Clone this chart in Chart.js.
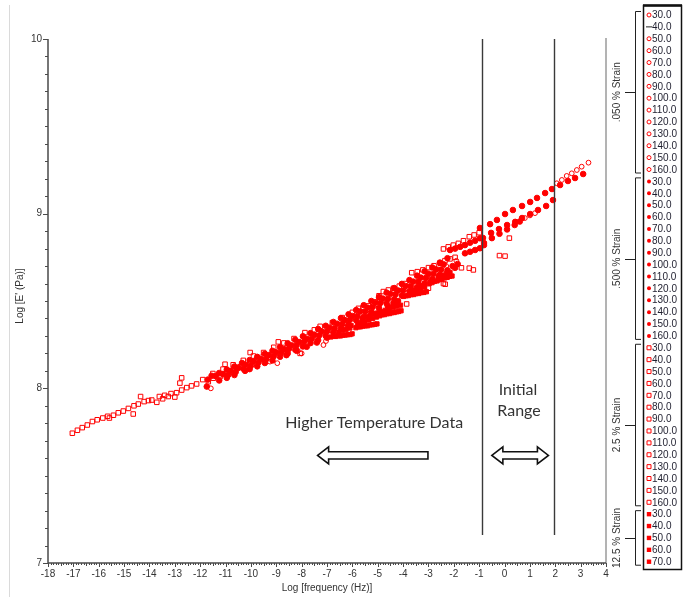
<!DOCTYPE html>
<html>
<head>
<meta charset="utf-8">
<script src="https://cdn.jsdelivr.net/npm/chart.js@4.4.1/dist/chart.umd.min.js"></script>
<style>
  html, body { margin: 0; padding: 0; background: #fff; }
  #wrap { position: relative; width: 691px; height: 597px; }
</style>
</head>
<body>
<div id="wrap"><canvas id="grafico" width="691" height="597"></canvas></div>
<script>
// Ejes
const xTicks = [-18, -17, -16, -15, -14, -13, -12, -11, -10, -9, -8, -7, -6, -5, -4, -3, -2, -1, 0, 1, 2, 3, 4];
const yTicks = [7, 8, 9, 10];

// Leyenda
const groupLabels = ['.050 % Strain', '.500 % Strain', '2.5 % Strain', '12.5 % Strain'];
const temps050 = ['30.0', '40.0', '50.0', '60.0', '70.0', '80.0', '90.0', '100.0', '110.0', '120.0', '130.0', '140.0', '150.0', '160.0'];
const temps500 = ['30.0', '40.0', '50.0', '60.0', '70.0', '80.0', '90.0', '100.0', '110.0', '120.0', '130.0', '140.0', '150.0', '160.0'];
const temps25 = ['30.0', '40.0', '50.0', '60.0', '70.0', '80.0', '90.0', '100.0', '110.0', '120.0', '130.0', '140.0', '150.0', '160.0'];
const temps125 = ['30.0', '40.0', '50.0', '60.0', '70.0'];

// .050 % strain (circulos abiertos) [log f, log E']
const strain050 = [
  [-11.58, 8.000], [-11.20, 8.065], [-10.69, 8.086], [-10.20, 8.125], [-9.77, 8.134], [-9.40, 8.170],
  [-9.25, 8.153], [-8.96, 8.144], [-8.60, 8.220], [-8.15, 8.215], [-8.00, 8.200], [-7.70, 8.280],
  [-7.14, 8.248], [-7.04, 8.271], [-6.80, 8.330], [-6.30, 8.372], [-5.90, 8.405], [-5.40, 8.452],
  [-5.00, 8.480], [-4.70, 8.500], [-4.30, 8.540], [-3.80, 8.570], [-3.40, 8.610], [-3.05, 8.640],
  [-2.60, 8.680], [-2.30, 8.700], [-1.90, 8.730],
  [0.80, 8.975], [1.00, 8.990], [1.20, 9.003],
  [2.06, 9.174], [2.26, 9.193], [2.45, 9.216], [2.65, 9.231], [2.85, 9.250], [3.04, 9.269], [3.31, 9.292]
];

// .500 % strain (circulos llenos)
const strain500 = [
  [-11.70, 8.050], [-11.40, 8.070], [-11.10, 8.082], [-10.80, 8.100], [-10.50, 8.117], [-10.20, 8.135],
  [-9.90, 8.155], [-9.60, 8.168], [-9.30, 8.190], [-9.00, 8.206], [-8.70, 8.224], [-8.40, 8.246],
  [-8.10, 8.265], [-7.80, 8.284], [-7.50, 8.306], [-7.20, 8.325], [-6.90, 8.347], [-6.60, 8.370],
  [-6.30, 8.391], [-6.00, 8.414], [-5.70, 8.440], [-5.40, 8.462], [-5.10, 8.490], [-4.80, 8.514],
  [-4.50, 8.541], [-4.20, 8.560], [-3.90, 8.586], [-3.60, 8.611], [-3.30, 8.634], [-3.00, 8.656],
  [-2.70, 8.681], [-2.40, 8.710],
  [-11.74, 8.010], [-11.25, 8.045], [-10.95, 8.060], [-10.65, 8.076], [-10.23, 8.100], [-10.05, 8.110],
  [-9.75, 8.126], [-9.45, 8.145], [-9.15, 8.160], [-8.85, 8.181], [-8.55, 8.200], [-8.25, 8.221],
  [-7.95, 8.240], [-7.65, 8.259], [-7.35, 8.276], [-7.05, 8.300], [-6.75, 8.321], [-6.45, 8.344],
  [-6.15, 8.366], [-5.85, 8.390], [-5.55, 8.410], [-5.25, 8.436], [-4.95, 8.460], [-4.65, 8.486],
  [-4.35, 8.510], [-4.05, 8.531], [-3.75, 8.556], [-3.45, 8.579], [-3.15, 8.601], [-2.85, 8.626],
  [-2.55, 8.650], [-2.25, 8.676],
  [-11.55, 8.072], [-11.25, 8.088], [-10.95, 8.108], [-10.65, 8.125], [-10.35, 8.145], [-10.05, 8.162],
  [-9.75, 8.180], [-9.45, 8.198], [-9.15, 8.215], [-8.85, 8.236], [-8.55, 8.258], [-8.25, 8.278],
  [-7.95, 8.298], [-7.65, 8.316], [-7.35, 8.340], [-7.05, 8.358], [-6.75, 8.380], [-6.45, 8.402],
  [-6.15, 8.424], [-5.85, 8.448], [-5.55, 8.476], [-5.25, 8.500], [-4.95, 8.522], [-4.65, 8.548],
  [-4.35, 8.574], [-4.05, 8.598], [-3.75, 8.620], [-3.45, 8.645], [-3.15, 8.670], [-2.85, 8.692],
  [-2.55, 8.720], [-2.25, 8.745],
  [-10.90, 8.076], [-10.60, 8.094], [-10.30, 8.112], [-10.00, 8.130], [-9.70, 8.148], [-9.40, 8.166],
  [-9.10, 8.184], [-8.80, 8.206], [-8.50, 8.226], [-8.20, 8.246], [-7.90, 8.268], [-7.60, 8.284],
  [-7.30, 8.304], [-7.00, 8.326], [-6.70, 8.344], [-6.40, 8.368], [-6.10, 8.392], [-5.80, 8.414],
  [-5.50, 8.440], [-5.20, 8.466], [-4.90, 8.488], [-4.60, 8.512], [-4.30, 8.538], [-4.00, 8.560],
  [-3.70, 8.585], [-3.40, 8.610], [-3.10, 8.632], [-2.80, 8.656], [-2.50, 8.680],
  [-8.60, 8.190], [-8.20, 8.215], [-7.80, 8.238], [-7.40, 8.262], [-7.00, 8.290], [-5.60, 8.400],
  [-5.20, 8.430], [-4.60, 8.470], [-4.20, 8.500], [-3.60, 8.560], [-3.30, 8.585], [-2.90, 8.612],
  [-2.60, 8.635], [-2.05, 8.700], [-1.85, 8.712], [-1.95, 8.690],
  [-2.15, 8.792], [-1.95, 8.800], [-1.75, 8.810], [-1.56, 8.820], [-1.36, 8.834], [-1.16, 8.845], [-0.97, 8.859],
  [-1.56, 8.773], [-1.36, 8.782], [-1.16, 8.792], [-0.97, 8.802], [-0.81, 8.820],
  [-0.97, 8.918], [-0.57, 8.940], [-0.30, 8.964], [0.02, 8.998], [0.33, 9.021], [0.69, 9.044],
  [1.01, 9.067], [1.28, 9.090], [1.60, 9.118], [1.87, 9.141], [2.19, 9.164], [2.50, 9.187],
  [2.78, 9.204], [3.10, 9.227],
  [-0.85, 8.861], [-0.53, 8.890], [-0.22, 8.912], [0.10, 8.935], [0.42, 8.953], [0.69, 8.975],
  [1.01, 8.998], [1.32, 9.021], [1.64, 9.044], [1.91, 9.078],
  [-0.81, 8.832], [-0.50, 8.860], [-0.20, 8.885], [0.10, 8.910], [0.40, 8.935], [0.60, 8.955]
];

// 2.5 % strain (cuadros abiertos)
const strain25 = [
  [-17.04, 7.743], [-16.84, 7.760], [-16.65, 7.775], [-16.45, 7.790], [-16.25, 7.810], [-16.06, 7.820],
  [-15.84, 7.830], [-15.65, 7.840], [-15.58, 7.830], [-15.42, 7.846], [-15.23, 7.860], [-15.03, 7.870],
  [-14.83, 7.885], [-14.64, 7.853], [-14.61, 7.900], [-14.44, 7.910], [-14.35, 7.953], [-14.21, 7.924],
  [-14.04, 7.930], [-13.91, 7.933], [-13.71, 7.920], [-13.61, 7.953], [-13.48, 7.940], [-13.40, 7.960],
  [-13.26, 7.953], [-13.15, 7.970], [-13.00, 7.950], [-12.93, 7.975], [-12.80, 8.030], [-12.73, 8.060],
  [-12.73, 7.990], [-12.53, 8.004], [-12.34, 8.014], [-12.14, 8.025], [-11.90, 8.050],
  [-11.68, 8.038], [-11.48, 8.058], [-11.22, 8.077], [-10.95, 8.087], [-10.69, 8.106], [-10.43, 8.124],
  [-10.03, 8.144], [-9.77, 8.163], [-9.51, 8.182], [-9.18, 8.191], [-8.85, 8.200], [-8.59, 8.229],
  [-11.50, 8.085], [-11.02, 8.138], [-11.10, 8.110], [-10.70, 8.135], [-10.30, 8.160], [-10.03, 8.205],
  [-9.90, 8.185], [-9.50, 8.205], [-9.10, 8.235], [-8.92, 8.266], [-8.70, 8.260], [-8.30, 8.285],
  [-7.87, 8.319], [-7.50, 8.335], [-7.27, 8.355], [-6.79, 8.376], [-6.40, 8.405], [-6.00, 8.435],
  [-5.76, 8.458], [-5.57, 8.464], [-5.37, 8.472], [-5.10, 8.495], [-4.95, 8.530], [-4.78, 8.554],
  [-4.58, 8.563], [-4.38, 8.573], [-4.15, 8.585], [-3.90, 8.600], [-3.66, 8.662], [-3.44, 8.668],
  [-3.22, 8.678], [-3.00, 8.691], [-2.78, 8.702], [-2.54, 8.716], [-2.35, 8.731], [-2.15, 8.741],
  [-1.95, 8.750],
  [-2.41, 8.798], [-2.22, 8.810], [-2.02, 8.820], [-1.82, 8.830], [-1.62, 8.845], [-1.39, 8.868],
  [-1.20, 8.878], [-1.00, 8.891],
  [-8.06, 8.200], [-3.86, 8.483], [-3.00, 8.573], [-2.41, 8.600], [-2.34, 8.596], [-1.70, 8.690],
  [-1.39, 8.688], [-1.23, 8.678], [-0.20, 8.760], [0.02, 8.757], [0.19, 8.860]
];

// 12.5 % strain (cuadros llenos)
const strain125 = [
  [-6.85, 8.294], [-6.75, 8.298], [-6.66, 8.297], [-6.56, 8.301], [-6.47, 8.300], [-6.37, 8.304],
  [-6.28, 8.305], [-6.19, 8.307], [-6.09, 8.308], [-6.01, 8.312],
  [-6.55, 8.322], [-6.40, 8.330], [-6.25, 8.337], [-6.10, 8.345], [-6.20, 8.352], [-6.05, 8.360],
  [-5.86, 8.347], [-5.76, 8.352], [-5.68, 8.352], [-5.58, 8.356], [-5.49, 8.358], [-5.40, 8.358],
  [-5.30, 8.363], [-5.21, 8.364], [-5.11, 8.367], [-5.03, 8.369],
  [-5.80, 8.370], [-5.65, 8.376], [-5.50, 8.384], [-5.35, 8.392], [-5.20, 8.400], [-5.05, 8.408],
  [-5.45, 8.410], [-5.30, 8.418], [-5.15, 8.425], [-5.00, 8.432],
  [-4.92, 8.415], [-4.82, 8.421], [-4.73, 8.422], [-4.63, 8.427], [-4.53, 8.428], [-4.44, 8.433],
  [-4.35, 8.434], [-4.25, 8.438], [-4.17, 8.440], [-4.08, 8.444],
  [-4.85, 8.440], [-4.70, 8.447], [-4.55, 8.455], [-4.40, 8.462], [-4.25, 8.470], [-4.10, 8.476],
  [-4.40, 8.485], [-4.25, 8.490],
  [-3.98, 8.526], [-3.88, 8.530], [-3.79, 8.531], [-3.68, 8.536], [-3.58, 8.537], [-3.49, 8.542],
  [-3.38, 8.543], [-3.28, 8.548], [-3.18, 8.549], [-3.08, 8.553],
  [-3.60, 8.560], [-3.45, 8.567], [-3.30, 8.574], [-3.15, 8.580],
  [-2.96, 8.601], [-2.86, 8.605], [-2.76, 8.612], [-2.66, 8.615], [-2.56, 8.622], [-2.47, 8.625],
  [-2.36, 8.632], [-2.26, 8.635], [-2.16, 8.641], [-2.07, 8.643],
  [-2.60, 8.640], [-2.45, 8.648], [-2.30, 8.656], [-2.15, 8.664]
];

// Lineas del "Initial Range"
const lineasVerticales = [-0.9, 1.95];

const aPuntos = arr => arr.map(p => ({ x: p[0], y: p[1] }));
const ROJO = '#ff0000';

// Flecha hueca (una o dos puntas)
function flecha(ctx, xl, xr, yc, doble) {
  const hl = 11, hh = 8.5, bh = 3.6;
  ctx.beginPath();
  ctx.moveTo(xl, yc);
  ctx.lineTo(xl + hl, yc - hh);
  ctx.lineTo(xl + hl, yc - bh);
  if (doble) {
    ctx.lineTo(xr - hl, yc - bh);
    ctx.lineTo(xr - hl, yc - hh);
    ctx.lineTo(xr, yc);
    ctx.lineTo(xr - hl, yc + hh);
    ctx.lineTo(xr - hl, yc + bh);
  } else {
    ctx.lineTo(xr, yc - bh);
    ctx.lineTo(xr, yc + bh);
  }
  ctx.lineTo(xl + hl, yc + bh);
  ctx.lineTo(xl + hl, yc + hh);
  ctx.closePath();
  ctx.fillStyle = '#fff';
  ctx.fill();
  ctx.lineWidth = 1.6;
  ctx.strokeStyle = '#111';
  ctx.stroke();
}

function marcador(ctx, tipo, cx, cy) {
  ctx.strokeStyle = ROJO;
  ctx.fillStyle = ROJO;
  ctx.lineWidth = 1;
  ctx.beginPath();
  if (tipo === 'oc' || tipo === 'fc') {
    ctx.arc(cx, cy, 2, 0, Math.PI * 2);
    tipo === 'fc' ? ctx.fill() : ctx.stroke();
  } else if (tipo === 'os') {
    ctx.rect(cx - 2, cy - 2, 4, 4);
    ctx.stroke();
  } else if (tipo === 'fs') {
    ctx.rect(cx - 2.2, cy - 2.2, 4.4, 4.4);
    ctx.fill();
  } else {
    ctx.strokeStyle = '#222';
    ctx.moveTo(cx - 3, cy);
    ctx.lineTo(cx + 3, cy);
    ctx.stroke();
  }
}

const decoracion = {
  id: 'decoracion',
  afterDatasetsDraw(chart) {
    const { ctx, scales: { x, y } } = chart;
    const x0 = x.getPixelForValue(-18), x1 = x.getPixelForValue(4);
    const yTop = y.getPixelForValue(10), yBot = y.getPixelForValue(7);
    ctx.save();

    // marco gris claro a la izquierda
    ctx.strokeStyle = '#dadada';
    ctx.lineWidth = 1;
    ctx.beginPath(); ctx.moveTo(9.5, 5); ctx.lineTo(9.5, 597); ctx.stroke();

    // borde derecho
    ctx.strokeStyle = '#9a9a9a';
    ctx.lineWidth = 1.5;
    ctx.beginPath(); ctx.moveTo(x1, yTop - 1); ctx.lineTo(x1, yBot); ctx.stroke();

    // lineas verticales
    ctx.strokeStyle = '#3a3a3a';
    ctx.lineWidth = 1.4;
    lineasVerticales.forEach(v => {
      const px = Math.round(x.getPixelForValue(v)) + 0.5;
      ctx.beginPath();
      ctx.moveTo(px, y.getPixelForValue(10));
      ctx.lineTo(px, y.getPixelForValue(7.16));
      ctx.stroke();
    });

    // ejes
    ctx.strokeStyle = '#4a4a4a';
    ctx.lineWidth = 1.5;
    ctx.beginPath();
    ctx.moveTo(x0, yTop); ctx.lineTo(x0, yBot); ctx.lineTo(x1, yBot);
    ctx.stroke();

    ctx.lineWidth = 1;
    for (let i = 70; i <= 100; i++) {
      const py = Math.round(y.getPixelForValue(i / 10)) + 0.5;
      const len = i % 10 === 0 ? 5 : 3;
      ctx.beginPath(); ctx.moveTo(x0 - len, py); ctx.lineTo(x0, py); ctx.stroke();
    }
    for (let i = -180; i <= 40; i++) {
      const px = Math.round(x.getPixelForValue(i / 10)) + 0.5;
      const len = i % 10 === 0 ? 4 : (i % 5 === 0 ? 3 : 2);
      ctx.beginPath(); ctx.moveTo(px, yBot); ctx.lineTo(px, yBot + len); ctx.stroke();
    }

    ctx.fillStyle = '#333';
    ctx.font = '10px "Liberation Sans", Arial, sans-serif';
    ctx.textAlign = 'right';
    ctx.textBaseline = 'middle';
    yTicks.forEach(v => ctx.fillText(String(v), x0 - 6, y.getPixelForValue(v)));
    ctx.textAlign = 'center';
    xTicks.forEach(v => ctx.fillText(String(v), x.getPixelForValue(v), yBot + 11));

    // titulos de ejes
    ctx.fillText('Log [frequency (Hz)]', 327, 588);
    ctx.save();
    ctx.translate(20, 296);
    ctx.rotate(-Math.PI / 2);
    ctx.fillText("Log [E' (Pa)]", 0, 0);
    ctx.restore();

    // notas
    ctx.fillStyle = '#333';
    ctx.font = '16px Lato, "Open Sans", sans-serif';
    ctx.textAlign = 'center';
    ctx.fillText('Higher Temperature Data', x.getPixelForValue(-5.14), y.getPixelForValue(7.80));
    ctx.fillText('Initial', x.getPixelForValue(0.53), y.getPixelForValue(7.99));
    ctx.fillText('Range', x.getPixelForValue(0.57), y.getPixelForValue(7.87));
    flecha(ctx, x.getPixelForValue(-7.37), x.getPixelForValue(-3.02), y.getPixelForValue(7.616), false);
    flecha(ctx, x.getPixelForValue(-0.50), x.getPixelForValue(1.73), y.getPixelForValue(7.616), true);

    // leyenda
    const grupos = [
      { temps: temps050, tipo: 'oc' },
      { temps: temps500, tipo: 'fc' },
      { temps: temps25, tipo: 'os' },
      { temps: temps125, tipo: 'fs' }
    ];
    const paso = 11.885, y0 = 15;
    ctx.strokeStyle = '#111';
    ctx.lineWidth = 1.5;
    ctx.strokeRect(643.5, 5.5, 38, 564);
    ctx.lineWidth = 2.5;
    ctx.beginPath(); ctx.moveTo(643, 5.5); ctx.lineTo(682, 5.5); ctx.stroke();

    let fila = 0;
    grupos.forEach((g, gi) => {
      const primero = y0 + fila * paso;
      g.temps.forEach((t, ti) => {
        const cy = y0 + fila * paso;
        const tipo = (gi === 0 && ti === 1) ? 'dash' : g.tipo;
        marcador(ctx, tipo, 649, cy);
        ctx.fillStyle = '#1e1e2e';
        ctx.font = '10px "Liberation Sans", Arial, sans-serif';
        ctx.textAlign = 'left';
        ctx.textBaseline = 'middle';
        ctx.fillText(t, 652, cy + 0.5);
        fila++;
      });
      const ultimo = y0 + (fila - 1) * paso;
      const mid = (primero + ultimo) / 2;
      // corchete
      ctx.strokeStyle = '#222';
      ctx.lineWidth = 1;
      ctx.beginPath();
      ctx.moveTo(641, primero - 3.5); ctx.lineTo(635.5, primero - 3.5);
      ctx.lineTo(635.5, ultimo + 3.5); ctx.lineTo(641, ultimo + 3.5);
      ctx.moveTo(625, Math.round(mid) + 0.5); ctx.lineTo(635.5, Math.round(mid) + 0.5);
      ctx.stroke();
      ctx.save();
      ctx.translate(617, mid);
      ctx.rotate(-Math.PI / 2);
      ctx.fillStyle = '#333';
      ctx.textAlign = 'center';
      ctx.fillText(groupLabels[gi], 0, 0);
      ctx.restore();
    });

    ctx.restore();
  }
};

new Chart(document.getElementById('grafico').getContext('2d'), {
  type: 'scatter',
  data: {
    datasets: [
      { label: groupLabels[0], data: aPuntos(strain050), pointStyle: 'circle', pointRadius: 2.4,
        backgroundColor: 'rgba(255,255,255,0)', borderColor: ROJO, borderWidth: 1 },
      { label: groupLabels[1], data: aPuntos(strain500), pointStyle: 'circle', pointRadius: 2.8,
        backgroundColor: ROJO, borderColor: ROJO, borderWidth: 1 },
      { label: groupLabels[2], data: aPuntos(strain25), pointStyle: 'rect', pointRadius: 3.2,
        backgroundColor: 'rgba(255,255,255,0)', borderColor: ROJO, borderWidth: 1 },
      { label: groupLabels[3], data: aPuntos(strain125), pointStyle: 'rect', pointRadius: 3,
        backgroundColor: ROJO, borderColor: ROJO, borderWidth: 1 }
    ]
  },
  options: {
    responsive: false,
    animation: false,
    devicePixelRatio: 1,
    layout: { padding: { left: 48, top: 39, right: 85, bottom: 34 } },
    plugins: { legend: { display: false }, tooltip: { enabled: false } },
    scales: {
      x: { type: 'linear', min: -18, max: 4, display: false },
      y: { type: 'linear', min: 7, max: 10, display: false }
    }
  },
  plugins: [decoracion]
});
</script>
</body>
</html>
